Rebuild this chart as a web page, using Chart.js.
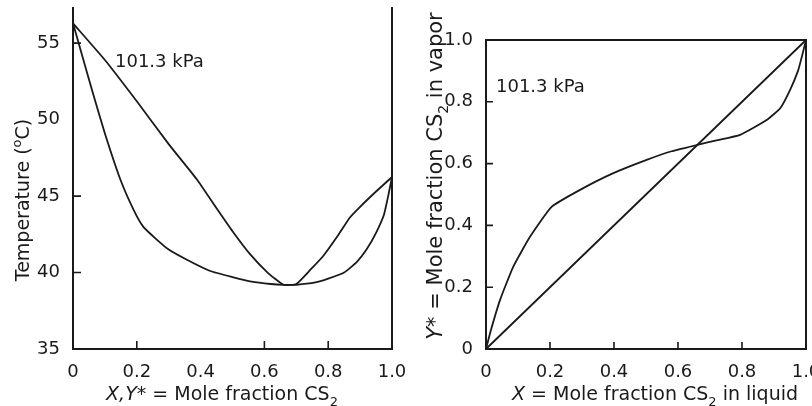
<!DOCTYPE html>
<html>
<head>
<meta charset="utf-8">
<script src="https://cdn.jsdelivr.net/npm/chart.js@4/dist/chart.umd.min.js"></script>
<style>
  html, body { margin: 0; padding: 0; background: #fff; overflow: hidden; width: 812px; height: 406px; }
  #left { position: absolute; left: 0; top: 0; }
  #right { position: absolute; left: 406px; top: 0; }
</style>
</head>
<body>
<canvas id="left" width="406" height="406"></canvas>
<canvas id="right" width="420" height="406"></canvas>
<script>
// tick values
var tempTicks = [35, 40, 45, 50, 55];
var fracTicks = [0, 0.2, 0.4, 0.6, 0.8, 1.0];
// little inward tick marks as they appear on the figure
var leftXMarks = [0.2, 0.6, 0.8];
var leftYMarks = [55, 45, 40];
var rightXMarks = [0.2, 0.4, 0.6, 0.8];
var rightYMarks = [0.2, 0.4, 0.6, 0.8];

// T-x-y diagram, bubble (liquid) curve
var liquidX = [0, 0.03, 0.06, 0.10, 0.15, 0.19, 0.22, 0.26, 0.30, 0.36, 0.43, 0.50, 0.56, 0.62, 0.66, 0.70, 0.76, 0.80, 0.85, 0.89, 0.92, 0.95, 0.975, 0.99, 1.0];
var liquidT = [56.3, 54.1, 51.9, 49.1, 46.0, 44.1, 43.0, 42.2, 41.5, 40.8, 40.1, 39.7, 39.4, 39.25, 39.2, 39.2, 39.35, 39.6, 40.0, 40.7, 41.5, 42.6, 43.8, 45.2, 46.25];
// dew (vapor) curve
var vaporX = [0, 0.10, 0.20, 0.30, 0.388, 0.45, 0.50, 0.555, 0.61, 0.66, 0.70, 0.745, 0.785, 0.83, 0.868, 0.90, 0.95, 1.0];
var vaporT = [56.3, 53.9, 51.2, 48.4, 46.1, 44.2, 42.7, 41.2, 40.0, 39.2, 39.25, 40.2, 41.1, 42.4, 43.6, 44.3, 45.3, 46.25];

// x-y diagram
var eqX = [0, 0.015, 0.044, 0.085, 0.1375, 0.205, 0.294, 0.398, 0.502, 0.58, 0.658, 0.72, 0.794, 0.877, 0.92, 0.95, 0.975, 0.987, 1.0];
var eqY = [0, 0.06, 0.159, 0.266, 0.363, 0.46, 0.515, 0.569, 0.612, 0.64, 0.66, 0.675, 0.693, 0.741, 0.78, 0.838, 0.9, 0.946, 1.0];
var diagX = [0, 1];
var diagY = [0, 1];

var ink = "#1a1a1a";
var FONT = '"DejaVu Sans", Verdana, sans-serif';

function pts(xs, ys) {
    return xs.map(function (v, i) { return { x: v, y: ys[i] }; });
}

function curve(xs, ys) {
    return {
        data: pts(xs, ys),
        showLine: true,
        borderColor: ink,
        borderWidth: 1.8,
        pointRadius: 0,
        tension: 0.15,
        fill: false,
        clip: 4,
    };
}

function richText(ctx, parts, x, y, size, rot) {
    ctx.save();
    ctx.translate(x, y);
    if (rot) ctx.rotate(rot);
    ctx.fillStyle = ink;
    ctx.textBaseline = "alphabetic";
    var fontOf = function (p) {
        var s = p.sub || p.sup ? Math.round(size * 0.68) : size;
        return (p.italic ? "italic " : "") + s + "px " + FONT;
    };
    var w = 0;
    parts.forEach(function (p) { ctx.font = fontOf(p); w += ctx.measureText(p.t).width; });
    var cx = -w / 2;
    parts.forEach(function (p) {
        ctx.font = fontOf(p);
        var dy = p.sub ? size * 0.3 : p.sup ? -size * 0.4 : 0;
        ctx.fillText(p.t, cx, size * 0.36 + dy);
        cx += ctx.measureText(p.t).width;
    });
    ctx.restore();
}

// frame, inward ticks, titles and the pressure note
var decor = {
    id: "decor",
    afterDatasetsDraw: function (chart, args, o) {
        var ctx = chart.ctx, a = chart.chartArea;
        var sx = chart.scales.x, sy = chart.scales.y;
        ctx.save();
        ctx.strokeStyle = ink;
        ctx.lineWidth = 2;
        ctx.lineCap = "square";
        ctx.beginPath();
        ctx.moveTo(a.left, a.top);
        ctx.lineTo(a.left, a.bottom);
        ctx.lineTo(a.right, a.bottom);
        ctx.lineTo(a.right, a.top);
        if (o.closed) ctx.closePath();
        ctx.stroke();

        ctx.lineWidth = 1.6;
        ctx.lineCap = "butt";
        ctx.beginPath();
        o.xMarks.forEach(function (v) {
            var px = sx.getPixelForValue(v);
            ctx.moveTo(px, a.bottom);
            ctx.lineTo(px, a.bottom - o.tick);
        });
        o.yMarks.forEach(function (v) {
            var py = sy.getPixelForValue(v);
            ctx.moveTo(a.left, py);
            ctx.lineTo(a.left + o.tick, py);
        });
        ctx.stroke();
        ctx.restore();

        richText(ctx, o.xTitle, o.xTitlePos[0], o.xTitlePos[1], o.xTitleSize, 0);
        richText(ctx, o.yTitle, o.yTitlePos[0], o.yTitlePos[1], o.yTitleSize, -Math.PI / 2);

        ctx.save();
        ctx.fillStyle = ink;
        ctx.font = "18px " + FONT;
        ctx.textBaseline = "middle";
        ctx.fillText(o.note, o.notePos[0], o.notePos[1]);
        ctx.restore();
    },
};

function axis(min, max, ticksArr, fmt, fit) {
    return {
        type: "linear",
        min: min,
        max: max,
        grid: { display: false },
        border: { display: false },
        afterBuildTicks: function (s) {
            s.ticks = ticksArr.map(function (v) { return { value: v }; });
        },
        afterFit: fit,
        ticks: {
            color: ink,
            font: { family: FONT, size: 18 },
            padding: 5,
            autoSkip: false,
            maxRotation: 0,
            callback: fmt,
        },
    };
}

var fmtFrac = function (v) { return v === 0 ? "0" : v.toFixed(1); };
var fmtTemp = function (v) { return String(v); };

function fitY(w) {
    return function (s) { s.width = w; s.paddingTop = 0; s.paddingBottom = 0; };
}
function fitX(h) {
    return function (s) { s.height = h; s.paddingLeft = 0; s.paddingRight = 0; };
}

var baseOptions = {
    responsive: false,
    animation: false,
    events: [],
    plugins: { legend: { display: false }, tooltip: { enabled: false } },
};

var txChart = new Chart(document.getElementById("left").getContext("2d"), {
    type: "scatter",
    data: { datasets: [curve(liquidX, liquidT), curve(vaporX, vaporT)] },
    plugins: [decor],
    options: Object.assign({}, baseOptions, {
        layout: { padding: { left: 0, top: 8, right: 14, bottom: 0 } },
        scales: {
            x: axis(0, 1, fracTicks, fmtFrac, fitX(57)),
            y: axis(35, 57.3, tempTicks, fmtTemp, fitY(73)),
        },
        plugins: Object.assign({}, baseOptions.plugins, {
            decor: {
                closed: false,
                tick: 8,
                xMarks: leftXMarks,
                yMarks: leftYMarks,
                xTitle: [{ t: "X,Y*", italic: true }, { t: " = Mole fraction CS" }, { t: "2", sub: true }],
                xTitlePos: [222, 393],
                xTitleSize: 19,
                yTitle: [{ t: "Temperature (" }, { t: "o", sup: true }, { t: "C)" }],
                yTitlePos: [22, 200],
                yTitleSize: 19,
                note: "101.3 kPa",
                notePos: [115, 62],
            },
        }),
    }),
});

var xyChart = new Chart(document.getElementById("right").getContext("2d"), {
    type: "scatter",
    data: { datasets: [curve(eqX, eqY), curve(diagX, diagY)] },
    plugins: [decor],
    options: Object.assign({}, baseOptions, {
        layout: { padding: { left: 0, top: 40, right: 20, bottom: 0 } },
        scales: {
            x: axis(0, 1, fracTicks, fmtFrac, fitX(57)),
            y: axis(0, 1, fracTicks, fmtFrac, fitY(80)),
        },
        plugins: Object.assign({}, baseOptions.plugins, {
            decor: {
                closed: true,
                tick: 7,
                xMarks: rightXMarks,
                yMarks: rightYMarks,
                xTitle: [{ t: "X", italic: true }, { t: " = Mole fraction CS" }, { t: "2", sub: true }, { t: " in liquid" }],
                xTitlePos: [249, 393],
                xTitleSize: 19,
                yTitle: [{ t: "Y*", italic: true }, { t: " = Mole fraction CS" }, { t: "2", sub: true }, { t: " in vapor" }],
                yTitlePos: [28, 176],
                yTitleSize: 21,
                note: "101.3 kPa",
                notePos: [90, 87],
            },
        }),
    }),
});
</script>
</body>
</html>
